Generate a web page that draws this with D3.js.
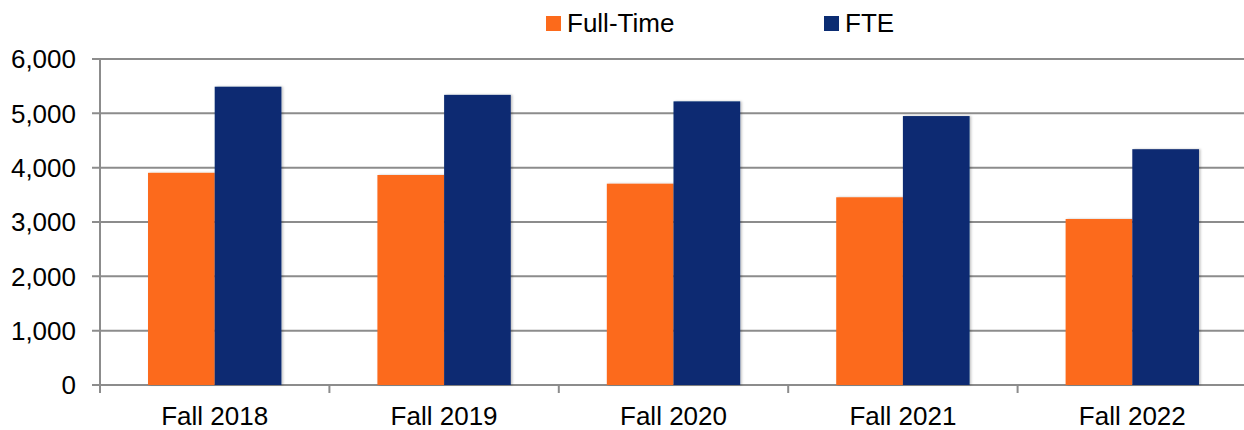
<!DOCTYPE html>
<html>
<head>
<meta charset="utf-8">
<script src="https://cdn.jsdelivr.net/npm/d3@7"></script>
<style>
  body { margin: 0; background: #fff; }
  text { font-family: "Liberation Sans", Arial, sans-serif; fill: #000; }
</style>
</head>
<body>
<svg id="chart" width="1244" height="430"></svg>
<script>
const categories = ['Fall 2018', 'Fall 2019', 'Fall 2020', 'Fall 2021', 'Fall 2022'];
const seriesNames = ['Full-Time', 'FTE'];
const fullTime = [3905, 3865, 3705, 3455, 3055];
const fte = [5490, 5340, 5220, 4950, 4340];
const yTicks = [0, 1000, 2000, 3000, 4000, 5000, 6000];
const colors = ['#FC6A1B', '#0B2C72'];

const svg = d3.select('#chart');
const margin = { top: 59, right: 0, bottom: 45, left: 100 };
const width = 1147;
const height = 430 - margin.top - margin.bottom;

const defs = svg.append('defs');
const f = defs.append('filter').attr('id', 'shadow')
  .attr('x', '-10%').attr('y', '-10%').attr('width', '130%').attr('height', '120%');
f.append('feDropShadow').attr('dx', 1.5).attr('dy', 0).attr('stdDeviation', 1.2)
  .attr('flood-color', '#000').attr('flood-opacity', 0.25);

const g = svg.append('g').attr('transform', `translate(${margin.left},${margin.top})`);

const x0 = d3.scaleBand().domain(categories).range([0, width]).paddingInner(0).paddingOuter(0);
const x1 = d3.scaleBand().domain(seriesNames).range([0, x0.bandwidth()]).paddingInner(0).paddingOuter(0.72);
const y = d3.scaleLinear().domain([0, 6000]).range([height, 0]);

// gridlines
g.append('g')
  .selectAll('line')
  .data(yTicks)
  .enter().append('line')
    .attr('x1', -8).attr('x2', width)
    .attr('y1', d => y(d)).attr('y2', d => y(d))
    .attr('stroke', '#8c8c8c').attr('stroke-width', 2);

// y labels
g.append('g')
  .selectAll('text')
  .data(yTicks)
  .enter().append('text')
    .attr('x', -24)
    .attr('y', d => y(d))
    .attr('dy', '0.36em')
    .attr('text-anchor', 'end')
    .attr('font-size', 26)
    .text(d => d3.format(',')(d));

// y axis line
g.append('line')
  .attr('x1', 0).attr('x2', 0).attr('y1', 0).attr('y2', height + 8)
  .attr('stroke', '#8c8c8c').attr('stroke-width', 2);

// category boundary ticks
g.append('g')
  .selectAll('line')
  .data(categories.slice(1))
  .enter().append('line')
    .attr('x1', d => x0(d)).attr('x2', d => x0(d))
    .attr('y1', height).attr('y2', height + 8)
    .attr('stroke', '#8c8c8c').attr('stroke-width', 2);

// bars
const rows = categories.map((c, i) => ({ cat: c, vals: [fullTime[i], fte[i]] }));
const groups = g.selectAll('.grp')
  .data(rows)
  .enter().append('g')
    .attr('class', 'grp')
    .attr('transform', d => `translate(${x0(d.cat)},0)`);

groups.selectAll('rect')
  .data(d => d.vals.map((v, j) => ({ name: seriesNames[j], v, j })))
  .enter().append('rect')
    .attr('x', d => x1(d.name))
    .attr('y', d => y(d.v))
    .attr('width', x1.bandwidth())
    .attr('height', d => height - y(d.v))
    .attr('fill', d => colors[d.j])
    .attr('filter', 'url(#shadow)');

// x labels
g.append('g')
  .selectAll('text')
  .data(categories)
  .enter().append('text')
    .attr('x', d => x0(d) + x0.bandwidth() / 2)
    .attr('y', height + 40)
    .attr('text-anchor', 'middle')
    .attr('font-size', 26)
    .text(d => d);

// legend
const legendX = [546, 824];
const legend = svg.append('g');
seriesNames.forEach((name, i) => {
  legend.append('rect')
    .attr('x', legendX[i]).attr('y', 16)
    .attr('width', 15).attr('height', 15)
    .attr('fill', colors[i]);
  legend.append('text')
    .attr('x', legendX[i] + 21).attr('y', 32)
    .attr('font-size', 26)
    .text(name);
});
</script>
</body>
</html>
